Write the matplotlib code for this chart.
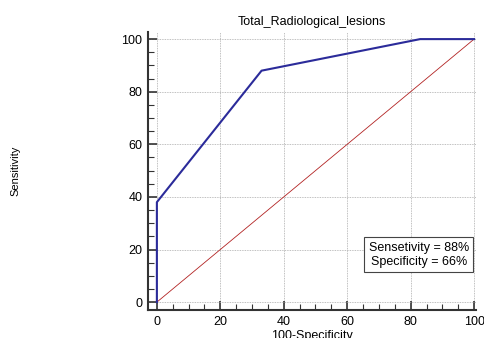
import matplotlib
matplotlib.use("Agg")
import matplotlib.pyplot as plt
from matplotlib.ticker import MultipleLocator

plt.rcParams['font.family'] = ['Liberation Sans', 'DejaVu Sans']

title = "Total_Radiological_lesions"
roc_x = [0, 0, 33, 83, 100]
roc_y = [0, 38, 88, 100, 100]
diag_x = [0, 100]
diag_y = [0, 100]
x_ticks = [0, 20, 40, 60, 80, 100]
y_ticks = [0, 20, 40, 60, 80, 100]
box_text = "Sensetivity = 88%\nSpecificity = 66%"

fig = plt.figure(figsize=(4.85, 3.38), dpi=100)
ax = fig.add_axes([148/485, 1 - 310/338, (476 - 148)/485, (310 - 32)/338])
ax.set_xlim(-2.8, 100.6)
ax.set_ylim(-3.0, 102.7)

ax.plot(diag_x, diag_y, color='#b22222', lw=0.6, zorder=2)
ax.plot(roc_x, roc_y, color='#2b2b9a', lw=1.5, zorder=3)

ax.set_xticks(x_ticks)
ax.set_yticks(y_ticks)
ax.xaxis.set_minor_locator(MultipleLocator(5))
ax.yaxis.set_minor_locator(MultipleLocator(5))
ax.grid(True, which='major', linestyle=(0, (1, 1)), color='#aaaaaa', lw=0.6)
for s in ['top', 'right']:
    ax.spines[s].set_visible(False)
for s in ['left', 'bottom']:
    ax.spines[s].set_linewidth(1.5)
    ax.spines[s].set_color('#333333')
ax.tick_params(which='major', direction='in', length=6.5, width=1.2,
               labelsize=9, color='#333333', pad=4)
ax.tick_params(which='minor', direction='in', length=4, width=0.8,
               color='#333333')

ax.set_title(title, fontsize=9, pad=5)
ax.set_xlabel("100-Specificity", fontsize=9, labelpad=2)
ax.text(-0.405, 0.5, "Sensitivity", transform=ax.transAxes, rotation=90,
        fontsize=8, ha='center', va='center')

ax.text(82.6, 18, box_text, fontsize=9, ha='center', va='center',
        linespacing=1.2,
        bbox=dict(boxstyle='square,pad=0.35', facecolor='white',
                  edgecolor='#444444', lw=0.8), zorder=4)

fig.savefig("out.png", dpi=100)
